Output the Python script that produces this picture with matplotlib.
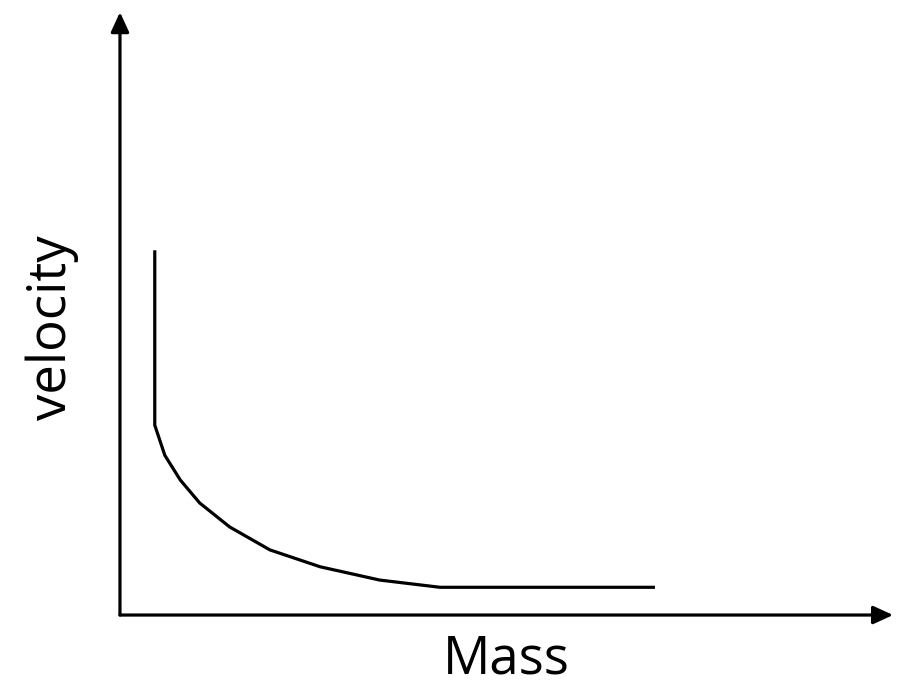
import matplotlib.pyplot as plt

# Curve (arbitrary units, axes run 0..10)
mass = [0.45, 0.45, 0.58, 0.78, 1.03, 1.42, 1.94, 2.59, 3.36, 4.14, 6.92]
velocity = [6.05, 3.15, 2.65, 2.24, 1.86, 1.46, 1.08, 0.80, 0.58, 0.46, 0.46]

fig = plt.figure(figsize=(9, 6.97), dpi=100)
ax = fig.add_axes([0.1333, 0.1176, 0.859, 0.865])
ax.plot(mass, velocity, color='black', linewidth=2.3, solid_capstyle='butt')
ax.set_xlim(0, 10)
ax.set_ylim(0, 10)
ax.axis('off')

# axis arrows
arrow = dict(arrowstyle='-|>,head_length=1.2,head_width=0.55', color='black',
             linewidth=2.3, shrinkA=0, shrinkB=0)
ax.annotate('', xy=(1.0, 0), xytext=(0, 0), xycoords='axes fraction', arrowprops=arrow)
ax.annotate('', xy=(0, 1.0), xytext=(0, 0), xycoords='axes fraction', arrowprops=arrow)

fig.text(0.563, 0.053, 'Mass', fontsize=38, family='Open Sans', ha='center', va='center')
fig.text(0.058, 0.53, 'velocity', fontsize=38, family='Open Sans', rotation=90,
         ha='center', va='center')

fig.savefig('out.png', dpi=100)
